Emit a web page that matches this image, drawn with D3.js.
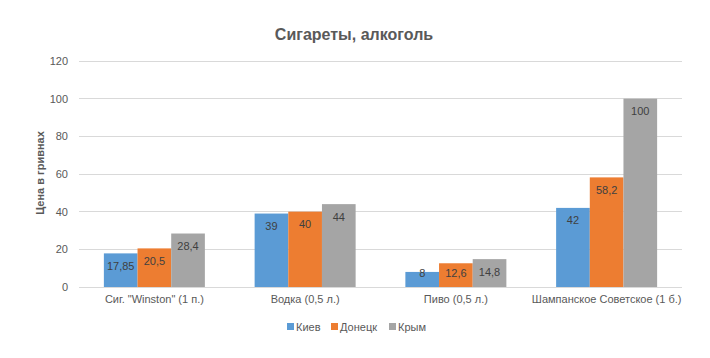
<!DOCTYPE html>
<html><head><meta charset="utf-8">
<script src="https://cdn.jsdelivr.net/npm/d3@7"></script>
<style>body{margin:0;background:#fff}svg{display:block;font-family:"Liberation Sans",Arial,sans-serif}</style>
</head><body><svg id="c" width="710" height="358"></svg>
<script>
const categories = ['Сиг. "Winston" (1 п.)', 'Водка (0,5 л.)', 'Пиво (0,5 л.)', 'Шампанское Советское (1 б.)'];
const seriesNames = ['Киев', 'Донецк', 'Крым'];
const kiev = [17.85, 39, 8, 42];
const donetsk = [20.5, 40, 12.6, 58.2];
const crimea = [28.4, 44, 14.8, 100];
const yTicks = [0, 20, 40, 60, 80, 100, 120];
const colors = ['#5B9BD5', '#ED7D31', '#A5A5A5'];
const title = 'Сигареты, алкоголь';
const yTitle = 'Цена в гривнах';

const values = [kiev, donetsk, crimea];
const svg = d3.select('#c');
const L = 79, R = 682, T = 61, B = 287;
const x = d3.scaleBand().domain(categories).range([L, R]).paddingInner(0.33).paddingOuter(0.165);
const xs = d3.scaleBand().domain(seriesNames).range([0, x.bandwidth()]);
const y = d3.scaleLinear().domain([0, 120]).range([B, T]);

// gridlines
svg.append('g').selectAll('line').data(yTicks.filter(d => d > 0)).join('line')
  .attr('x1', L).attr('x2', R).attr('y1', d => y(d)).attr('y2', d => y(d))
  .attr('stroke', '#D9D9D9').attr('stroke-width', 1).attr('shape-rendering', 'crispEdges');

// y tick labels
const yAxis = svg.append('g').attr('transform', `translate(${L},0)`)
  .call(d3.axisLeft(y).tickValues(yTicks).tickSize(0).tickPadding(11));
yAxis.select('.domain').remove();
yAxis.selectAll('text').attr('font-size', 11).attr('fill', '#595959').attr('font-family', '"Liberation Sans",Arial,sans-serif');

// bars
const fmt = v => String(v).replace('.', ',');
seriesNames.forEach((s, si) => {
  const g = svg.append('g');
  g.selectAll('rect').data(categories).join('rect')
    .attr('x', (c) => x(c) + xs(s)).attr('width', xs.bandwidth())
    .attr('y', (c, i) => y(values[si][i])).attr('height', (c, i) => B - y(values[si][i]))
    .attr('fill', colors[si]);
  g.selectAll('text').data(categories).join('text')
    .attr('x', c => x(c) + xs(s) + xs.bandwidth() / 2)
    .attr('y', (c, i) => Math.min(y(values[si][i]) + 12.7, B - 14))
    .attr('dy', '0.35em').attr('text-anchor', 'middle')
    .attr('font-size', 11).attr('fill', '#404040')
    .text((c, i) => fmt(values[si][i]));
});

// x axis
svg.append('line').attr('x1', L).attr('x2', R).attr('y1', B + 0.5).attr('y2', B + 0.5)
  .attr('stroke', '#D9D9D9');
const xAxis = svg.append('g').attr('transform', `translate(0,${B})`)
  .call(d3.axisBottom(x).tickSize(0).tickPadding(8));
xAxis.select('.domain').remove();
xAxis.selectAll('text').attr('font-size', 11).attr('fill', '#595959').attr('font-family', '"Liberation Sans",Arial,sans-serif');

// title
svg.append('text').attr('x', 354).attr('y', 40).attr('text-anchor', 'middle')
  .attr('font-size', 16).attr('font-weight', 'bold').attr('fill', '#595959').text(title);

// y title
svg.append('text').attr('transform', 'translate(44,173) rotate(-90)').attr('text-anchor', 'middle')
  .attr('font-size', 11).attr('font-weight', 'bold').attr('fill', '#595959').text(yTitle);

// legend
const legX = [287, 331, 389];
const lg = svg.append('g');
seriesNames.forEach((s, i) => {
  lg.append('rect').attr('x', legX[i]).attr('y', 323).attr('width', 7).attr('height', 7).attr('fill', colors[i]);
  lg.append('text').attr('x', legX[i] + 9).attr('y', 327).attr('dy', '0.35em')
    .attr('font-size', 11).attr('fill', '#595959').text(s);
});
</script></body></html>
